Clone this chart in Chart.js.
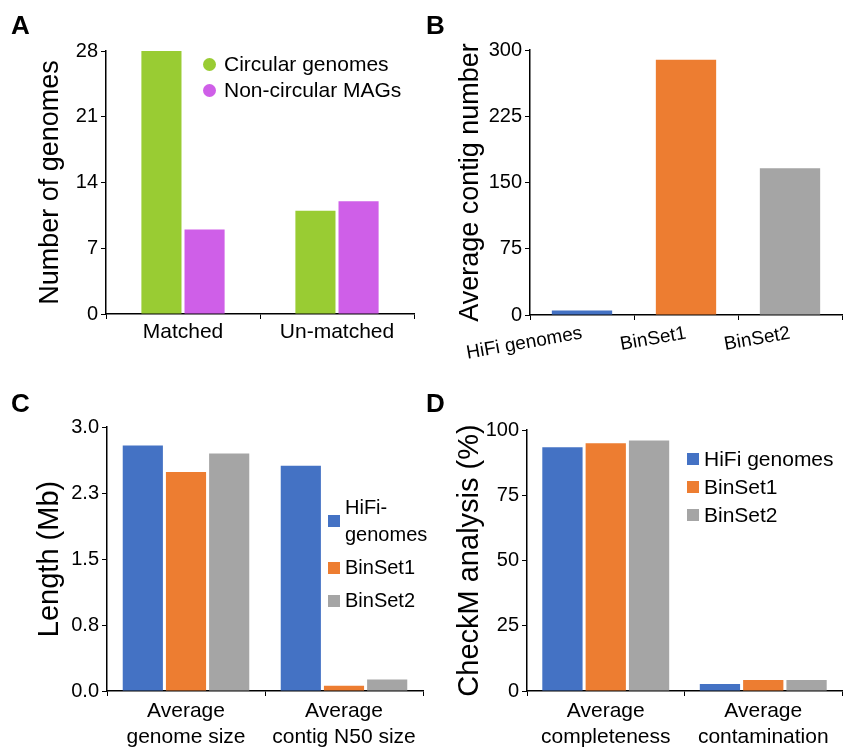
<!DOCTYPE html>
<html lang="en">
<head>
<meta charset="UTF-8">
<title>Genome comparison panels</title>
<script src="https://cdn.jsdelivr.net/npm/chart.js"></script>
<style>
  body { margin: 0; background: #fff; font-family: "Liberation Sans", Arial, sans-serif; }
  #fig { position: relative; width: 854px; height: 754px; background: #fff; }
  .panel { position: absolute; width: 427px; }
  .letter { position: absolute; font-weight: bold; font-size: 26px; line-height: 1; color: #000; }
  .legend { position: absolute; color: #000; white-space: nowrap; }
  .legend .item { display: flex; align-items: center; }
  .legend .sw { flex: none; }
</style>
</head>
<body>
<div id="fig">
  <div class="panel" style="left:0;top:0;height:370px"><canvas id="chartA"></canvas></div>
  <div class="panel" style="left:427px;top:0;height:370px"><canvas id="chartB"></canvas></div>
  <div class="panel" style="left:0;top:370px;height:384px"><canvas id="chartC"></canvas></div>
  <div class="panel" style="left:427px;top:370px;height:384px"><canvas id="chartD"></canvas></div>

  <div class="letter" style="left:11px;top:12px">A</div>
  <div class="letter" style="left:426px;top:12px">B</div>
  <div class="letter" style="left:11px;top:390px">C</div>
  <div class="letter" style="left:426px;top:390px">D</div>

  <div class="legend" id="legendA" style="left:203px;top:51px;font-size:21px;line-height:26px"></div>
  <div class="legend" id="legendC" style="left:328px;top:494px;font-size:20px;line-height:27px"></div>
  <div class="legend" id="legendD" style="left:687px;top:445px;font-size:21px;line-height:28px"></div>
</div>

<script>
  const FONT = '"Liberation Sans", Arial, sans-serif';

  // panel A
  const groupsA = ['Matched', 'Un-matched'];
  const circularA = [28, 11];
  const nonCircularA = [9, 12];

  // panel B
  const setsB = ['HiFi genomes', 'BinSet1', 'BinSet2'];
  const contigsB = [5, 289, 166];

  // panel C
  const groupsC = [['Average', 'genome size'], ['Average', 'contig N50 size']];
  const hifiC = [2.79, 2.56];
  const bin1C = [2.49, 0.06];
  const bin2C = [2.70, 0.13];
  const tickLabelsC = ['0.0', '0.8', '1.5', '2.3', '3.0'];

  // panel D
  const groupsD = [['Average', 'completeness'], ['Average', 'contamination']];
  const hifiD = [93.4, 2.7];
  const bin1D = [94.9, 4.2];
  const bin2D = [96.0, 4.2];

  const GREEN = '#99CC33';
  const MAGENTA = '#CF5FE8';
  const BLUE = '#4472C4';
  const ORANGE = '#ED7D31';
  const GREY = '#A5A5A5';

  function makeBarChart(id, o) {
    return new Chart(document.getElementById(id), {
      type: 'bar',
      data: { labels: o.labels, datasets: o.datasets },
      options: {
        responsive: true,
        maintainAspectRatio: false,
        animation: false,
        layout: { padding: o.padding },
        plugins: { legend: { display: false }, tooltip: { enabled: false } },
        scales: {
          x: {
            grid: { drawOnChartArea: false, color: '#000', tickLength: 5, lineWidth: 1 },
            border: { color: '#000', width: 1.5 },
            ticks: {
              color: '#000', font: { family: FONT, size: o.xFont, lineHeight: 1.2 },
              padding: o.xPad, autoSkip: false,
              minRotation: o.rot || 0, maxRotation: o.rot || 0
            },
            afterFit: s => { s.height = o.xHeight; }
          },
          y: {
            min: 0, max: o.max,
            grid: { drawOnChartArea: false, color: '#000', tickLength: 5, lineWidth: 1 },
            border: { color: '#000', width: 1.5 },
            ticks: {
              stepSize: o.step, color: '#000', font: { family: FONT, size: 20 }, padding: 3,
              callback: o.tickCb || (v => v)
            },
            title: {
              display: true, text: o.yTitle, color: '#000',
              font: { family: FONT, size: o.titleSize, lineHeight: 1.2 },
              padding: { top: o.titlePad, bottom: 0 }
            },
            afterFit: s => { s.width = o.yWidth; }
          }
        }
      }
    });
  }

  function bars(label, data, color, barPct, catPct) {
    return { label: label, data: data, backgroundColor: color, borderWidth: 0,
             barPercentage: barPct, categoryPercentage: catPct };
  }

  makeBarChart('chartA', {
    labels: groupsA,
    datasets: [
      bars('Circular genomes', circularA, GREEN, 0.93, 0.56),
      bars('Non-circular MAGs', nonCircularA, MAGENTA, 0.93, 0.56)
    ],
    padding: { top: 51, right: 13, left: 0, bottom: 0 },
    max: 28, step: 7, yWidth: 106, xHeight: 56, xPad: 1, xFont: 21,
    yTitle: 'Number of genomes', titleSize: 27, titlePad: 34
  });

  makeBarChart('chartB', {
    labels: setsB,
    datasets: [bars('Average contig number', contigsB, [BLUE, ORANGE, GREY], 1, 0.58)],
    padding: { top: 50, right: 12, left: 0, bottom: 0 },
    max: 300, step: 75, yWidth: 103, xHeight: 55, xPad: 2, rot: 10, xFont: 19,
    yTitle: 'Average contig number', titleSize: 27, titlePad: 27
  });

  makeBarChart('chartC', {
    labels: groupsC,
    datasets: [
      bars('HiFi-genomes', hifiC, BLUE, 0.93, 0.82),
      bars('BinSet1', bin1C, ORANGE, 0.93, 0.82),
      bars('BinSet2', bin2C, GREY, 0.93, 0.82)
    ],
    padding: { top: 57, right: 4, left: 0, bottom: 0 },
    max: 3, step: 0.75, yWidth: 107, xHeight: 63, xPad: 3, xFont: 21,
    tickCb: (v, i) => tickLabelsC[i],
    yTitle: 'Length (Mb)', titleSize: 29, titlePad: 33
  });

  makeBarChart('chartD', {
    labels: groupsD,
    datasets: [
      bars('HiFi genomes', hifiD, BLUE, 0.93, 0.825),
      bars('BinSet1', bin1D, ORANGE, 0.93, 0.825),
      bars('BinSet2', bin2D, GREY, 0.93, 0.825)
    ],
    padding: { top: 60, right: 12, left: 0, bottom: 0 },
    max: 100, step: 25, yWidth: 100, xHeight: 63, xPad: 3, xFont: 21,
    yTitle: 'CheckM analysis (%)', titleSize: 29, titlePad: 26
  });

  // legends drawn beside the plots, built from the series names and colours
  function buildLegend(id, items, round, gap) {
    const box = document.getElementById(id);
    items.forEach((it, i) => {
      const row = document.createElement('div');
      row.className = 'item';
      if (i > 0 && gap) row.style.marginTop = gap + 'px';
      const sw = document.createElement('span');
      sw.className = 'sw';
      sw.style.background = it.color;
      sw.style.width = round ? '13px' : '12px';
      sw.style.height = round ? '13px' : '12px';
      sw.style.borderRadius = round ? '50%' : '0';
      sw.style.marginRight = round ? '8px' : '5px';
      const txt = document.createElement('span');
      txt.innerHTML = it.lines.join('<br>');
      row.appendChild(sw);
      row.appendChild(txt);
      box.appendChild(row);
    });
  }

  buildLegend('legendA', [
    { lines: ['Circular genomes'], color: GREEN },
    { lines: ['Non-circular MAGs'], color: MAGENTA }
  ], true, 0);
  buildLegend('legendC', [
    { lines: ['HiFi-', 'genomes'], color: BLUE },
    { lines: ['BinSet1'], color: ORANGE },
    { lines: ['BinSet2'], color: GREY }
  ], false, 6);
  buildLegend('legendD', [
    { lines: ['HiFi genomes'], color: BLUE },
    { lines: ['BinSet1'], color: ORANGE },
    { lines: ['BinSet2'], color: GREY }
  ], false, 0);
</script>
</body>
</html>
